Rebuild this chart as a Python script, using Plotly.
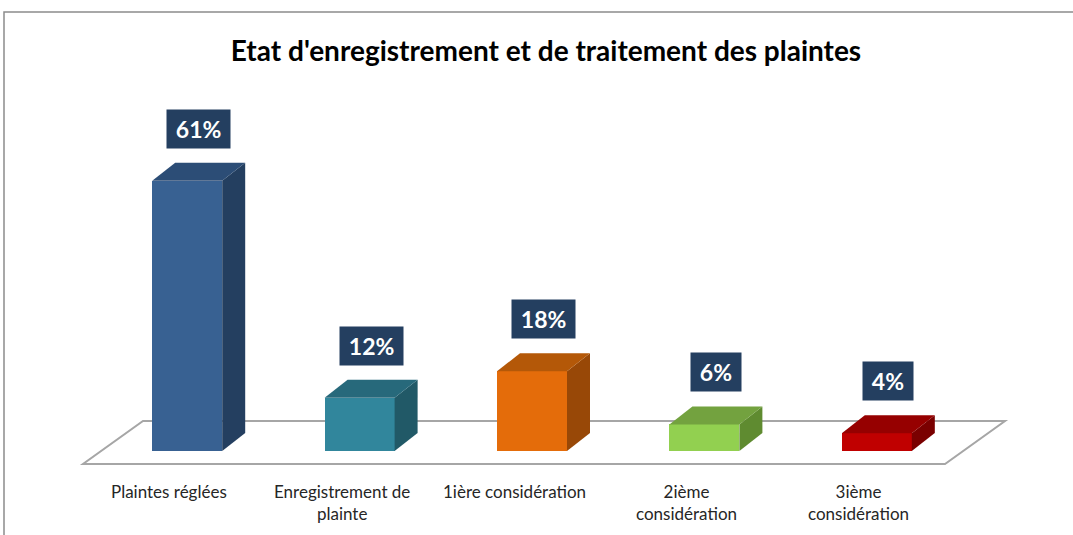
import plotly.graph_objects as go

# data
categories = ["Plaintes réglées", "Enregistrement de<br>plainte", "1ière considération",
              "2ième<br>considération", "3ième<br>considération"]
values = [61, 12, 18, 6, 4]
front_colors = ["#386192", "#31869C", "#E46C0A", "#92D050", "#C00000"]
side_colors = ["#243F60", "#215967", "#984807", "#5F8B30", "#7A0000"]
top_colors = ["#2C4D76", "#27697B", "#B45808", "#73A23F", "#960000"]

# geometry (x in category units, y in percent)
W, H = 1073, 535
px_x = 172.4          # pixels per category
px_y = 4.43           # pixels per percent
x0_px, y0_px = 169.2, 451   # pixel position of category 0 / value 0
bw = 70 / px_x        # bar width
shift = 18 / px_x     # bar offset inside floor
ddx, ddy = 23 / px_x, 18 / px_y   # bar depth
floor_front = -13 / px_y
floor_back = 30 / px_y
floor_dx = 60 / px_x

n = len(values)
fig = go.Figure()

# front faces
fig.add_trace(go.Bar(x=[i + shift for i in range(n)], y=values, width=bw,
                     marker=dict(color=front_colors, line=dict(width=0)),
                     hoverinfo="skip", showlegend=False))

# side and top faces
for i, v in enumerate(values):
    xl = i + shift - bw / 2
    xr = i + shift + bw / 2
    fig.add_trace(go.Scatter(x=[xr, xr + ddx, xr + ddx, xr, xr],
                             y=[0, ddy, v + ddy, v, 0],
                             fill="toself", fillcolor=side_colors[i], mode="lines",
                             line=dict(width=0, color=side_colors[i]),
                             hoverinfo="skip", showlegend=False))
    fig.add_trace(go.Scatter(x=[xl, xr, xr + ddx, xl + ddx, xl],
                             y=[v, v, v + ddy, v + ddy, v],
                             fill="toself", fillcolor=top_colors[i], mode="lines",
                             line=dict(width=0, color=top_colors[i]),
                             hoverinfo="skip", showlegend=False))
    fig.add_annotation(x=i + shift + ddx / 2, y=v + ddy, yanchor="bottom", yshift=14,
                       text="\u2006%d%%\u2006" % v, showarrow=False,
                       font=dict(family="Lato", size=23, color="white", weight="bold"),
                       bgcolor="#243F60", borderpad=5)
    fig.add_annotation(x=i, y=floor_front, yanchor="top", yshift=-15,
                       text=categories[i], showarrow=False,
                       font=dict(family="Lato", size=17, color="#262626"))

# floor
fig.add_shape(type="path", layer="below",
              path="M %f,%f L %f,%f L %f,%f L %f,%f Z" % (
                  -0.5, floor_front, n - 0.5, floor_front,
                  n - 0.5 + floor_dx, floor_back, -0.5 + floor_dx, floor_back),
              line=dict(color="#A6A6A6", width=2), fillcolor="white")

# chart border
fig.add_shape(type="rect", xref="paper", yref="paper",
              x0=4 / W, x1=1.02, y0=-0.02, y1=1 - 12 / H,
              line=dict(color="#8C8C8C", width=1.5), layer="below")

fig.update_layout(
    width=W, height=H,
    margin=dict(l=0, r=0, t=0, b=0),
    plot_bgcolor="white", paper_bgcolor="white",
    title=dict(text="<b>Etat d'enregistrement et de traitement des plaintes</b>",
               x=546 / W, xanchor="center", y=1 - 51 / H, yanchor="middle",
               font=dict(family="Lato", size=28, color="black")),
    xaxis=dict(range=[-x0_px / px_x, (W - x0_px) / px_x], visible=False, fixedrange=True),
    yaxis=dict(range=[-(H - y0_px) / px_y, y0_px / px_y], visible=False, fixedrange=True),
    bargap=0,
)

fig.write_html("out.html", config={"displayModeBar": False},
               post_script="document.body.style.margin='0';")
